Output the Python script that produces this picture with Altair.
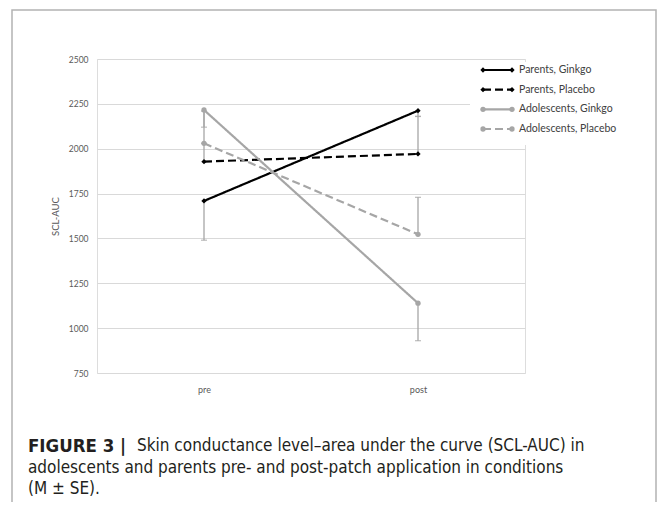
import altair as alt
import pandas as pd

times = ["pre", "post"]
series = ["Parents, Ginkgo", "Parents, Placebo", "Adolescents, Ginkgo", "Adolescents, Placebo"]
means = {
    "Parents, Ginkgo": [1709, 2212],
    "Parents, Placebo": [1928, 1971],
    "Adolescents, Ginkgo": [2216, 1139],
    "Adolescents, Placebo": [2030, 1523],
}
# error-bar end (one-sided, as drawn in the figure)
err_end = {
    "Parents, Ginkgo": [1490, 2180],
    "Parents, Placebo": [2030, 2180],
    "Adolescents, Ginkgo": [2120, 930],
    "Adolescents, Placebo": [2210, 1729],
}
colors = ["#000000", "#000000", "#a6a6a6", "#a6a6a6"]
dashes = [[1, 0], [8, 4], [1, 0], [8, 4]]
shapes = ["diamond", "diamond", "circle", "circle"]
sizes = [28, 28, 55, 55]

caption_bold = "FIGURE 3 |"
caption_lines = [
    "Skin conductance level\u2013area under the curve (SCL-AUC) in",
    "adolescents and parents pre- and post-patch application in conditions",
    "(M \u00b1 SE).",
]

rows = []
for s in series:
    for i, t in enumerate(times):
        rows.append({"series": s, "time": t, "value": means[s][i], "err": err_end[s][i]})
df = pd.DataFrame(rows)
leg = pd.DataFrame({"series": series})

color_scale = alt.Scale(domain=series, range=colors)
dash_scale = alt.Scale(domain=series, range=dashes)
shape_scale = alt.Scale(domain=series, range=shapes)
size_scale = alt.Scale(domain=series, range=sizes)

FONT = "Lato"

x = alt.X("time:N", sort=times, scale=alt.Scale(type="point", padding=0.5),
          axis=alt.Axis(title=None, labelAngle=0, domain=False, ticks=False,
                        labelPadding=12, labelFontSize=9, labelColor="#595959",
                        labelFont=FONT, grid=False))
y = alt.Y("value:Q", scale=alt.Scale(domain=[750, 2500], nice=False, zero=False),
          axis=alt.Axis(title="SCL-AUC", values=list(range(750, 2501, 250)), format="d",
                        domain=False, ticks=False, labelPadding=9, labelFontSize=8.5,
                        labelColor="#595959", labelFont=FONT, titleFont=FONT,
                        titleFontSize=9.5, titleColor="#595959", titleFontWeight="normal",
                        titlePadding=8, gridColor="#d9d9d9", gridWidth=1))

base = alt.Chart(df)

rules = base.mark_rule(color="#a6a6a6", strokeWidth=1.3).encode(
    x=x, y=y, y2="err:Q", detail="series:N")
caps = base.mark_tick(color="#a6a6a6", thickness=1.3, size=6).encode(
    x=x, y=alt.Y("err:Q"), detail="series:N")
lines = base.mark_line(strokeWidth=2.2).encode(
    x=x, y=y,
    color=alt.Color("series:N", scale=color_scale, legend=None),
    strokeDash=alt.StrokeDash("series:N", scale=dash_scale, legend=None),
    detail="series:N")
points = base.mark_point(filled=True, opacity=1).encode(
    x=x, y=y,
    color=alt.Color("series:N", scale=color_scale, legend=None),
    shape=alt.Shape("series:N", scale=shape_scale, legend=None),
    size=alt.Size("series:N", scale=size_scale, legend=None))

main = alt.layer(rules, caps, lines, points)

# manual legend (line with markers at both ends)
ly = alt.Y("series:N", sort=series, scale=alt.Scale(type="point", range=[11, 70], padding=0), axis=None)
lbase = alt.Chart(leg)
legbg = lbase.mark_rect(fill="white").encode(
    x=alt.value(373), x2=alt.value(558), y=alt.value(3), y2=alt.value(86))
lrule = lbase.mark_rule(strokeWidth=2.2).encode(
    x=alt.value(386), x2=alt.value(415), y=ly,
    color=alt.Color("series:N", scale=color_scale, legend=None),
    strokeDash=alt.StrokeDash("series:N", scale=dash_scale, legend=None))
lpt1 = lbase.mark_point(filled=True, opacity=1).encode(
    x=alt.value(386), y=ly,
    color=alt.Color("series:N", scale=color_scale, legend=None),
    shape=alt.Shape("series:N", scale=shape_scale, legend=None),
    size=alt.Size("series:N", scale=size_scale, legend=None))
lpt2 = lbase.mark_point(filled=True, opacity=1).encode(
    x=alt.value(415), y=ly,
    color=alt.Color("series:N", scale=color_scale, legend=None),
    shape=alt.Shape("series:N", scale=shape_scale, legend=None),
    size=alt.Size("series:N", scale=size_scale, legend=None))
ltext = lbase.mark_text(align="left", baseline="middle", font=FONT, fontSize=10.5,
                        color="#404040").encode(
    x=alt.value(422), y=ly, text="series:N")
legend = alt.layer(legbg, lrule, lpt1, lpt2, ltext)

# figure frame and caption
cap_df = pd.DataFrame({"k": [0]})
cbase = alt.Chart(cap_df)
frame = cbase.mark_rect(fill=None, stroke="#b3b3b3", strokeWidth=1.5).encode(
    x=alt.value(-85), x2=alt.value(559), y=alt.value(-49), y2=alt.value(470))
CFONT = "DejaVu Sans Condensed, sans-serif"
cb = cbase.mark_text(align="left", baseline="middle", font=CFONT, fontSize=18.5,
                     fontWeight="bold", color="#231f20").encode(
    x=alt.value(-69), y=alt.value(387), text=alt.value(caption_bold))
c1 = cbase.mark_text(align="left", baseline="middle", font=CFONT, fontSize=17,
                     color="#231f20").encode(
    x=alt.value(40), y=alt.value(387), text=alt.value(caption_lines[0]))
c2 = cbase.mark_text(align="left", baseline="middle", font=CFONT, fontSize=17,
                     color="#231f20").encode(
    x=alt.value(-69), y=alt.value(409), text=alt.value(caption_lines[1]))
c3 = cbase.mark_text(align="left", baseline="middle", font=CFONT, fontSize=17,
                     color="#231f20").encode(
    x=alt.value(-69), y=alt.value(430), text=alt.value(caption_lines[2]))
caption = alt.layer(frame, cb, c1, c2, c3)

chart = alt.layer(main, legend, caption).resolve_scale(
    y="independent", color="shared"
).properties(
    width=428, height=314,
    autosize=alt.AutoSizeParams(type="none"),
    padding={"left": 89, "top": 51, "right": 132, "bottom": 129},
).configure_view(stroke=None).configure(background="white")

chart.save("out.html", embed_options={"renderer": "svg", "actions": False})
